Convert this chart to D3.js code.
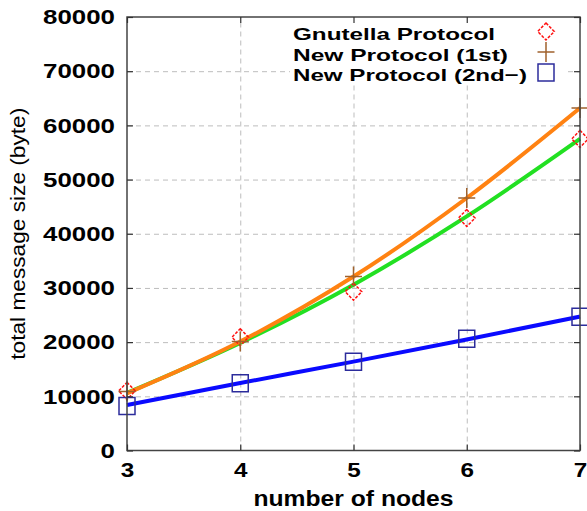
<!DOCTYPE html>
<html>
<head>
<meta charset="utf-8">
<script src="https://cdn.jsdelivr.net/npm/d3@7"></script>
<style>
  html, body { margin: 0; padding: 0; background: #fff; }
  svg { display: block; }
</style>
</head>
<body>
<script>
// data
const nodeCounts = [3, 4, 5, 6, 7];
const gnutella = [11000, 20900, 29300, 42900, 57500];
const newFirst = [10900, 20100, 32100, 46600, 63200];
const newSecond = [8200, 12400, 16400, 20600, 24700];
// the smooth fitted curves drawn through the points
const gnutellaFit = [10650, 19850, 30600, 43200, 57500];
const newFirstFit = [10550, 20100, 32100, 46600, 63200];
const newSecondFit = [8400, 12450, 16400, 20500, 24700];

const yTicks = [0, 10000, 20000, 30000, 40000, 50000, 60000, 70000, 80000];
const legendLabels = ["Gnutella Protocol", "New Protocol (1st)", "New Protocol (2nd\u2212)"];

const width = 587;
const height = 511;
const margin = { top: 17, right: 7, bottom: 60.5, left: 127 };
const w = width - margin.left - margin.right;
const h = height - margin.top - margin.bottom;

const svg = d3.select("body").append("svg")
    .attr("width", width)
    .attr("height", height);

const g = svg.append("g")
    .attr("transform", `translate(${margin.left},${margin.top})`);

const x = d3.scaleLinear().domain([3, 7]).range([0, w]);
const y = d3.scaleLinear().domain([0, 80000]).range([h, 0]);

// grid
g.append("g")
    .call(d3.axisLeft(y).tickValues(yTicks.slice(1, -1)).tickSize(-w).tickFormat(""))
    .call(s => s.select(".domain").remove())
    .selectAll("line")
    .attr("stroke", "#bdbdbd")
    .attr("stroke-dasharray", "5,4");
g.append("g")
    .attr("transform", `translate(0,${h})`)
    .call(d3.axisBottom(x).tickValues([4, 5, 6]).tickSize(-h).tickFormat(""))
    .call(s => s.select(".domain").remove())
    .selectAll("line")
    .attr("stroke", "#bdbdbd")
    .attr("stroke-dasharray", "5,4");

// legend background hides the grid behind it
g.append("rect")
    .attr("x", 163)
    .attr("y", 0)
    .attr("width", 278)
    .attr("height", 67)
    .attr("fill", "#fff");

// curves
const line = d3.line()
    .x((d, i) => x(nodeCounts[i]))
    .y(d => y(d))
    .curve(d3.curveMonotoneX);

const curves = [
    { values: gnutellaFit, color: "#22e022" },
    { values: newFirstFit, color: "#ff8212" },
    { values: newSecondFit, color: "#0a0aff" }
];
g.selectAll(".curve")
    .data(curves)
    .join("path")
    .attr("class", "curve")
    .attr("d", d => line(d.values))
    .attr("fill", "none")
    .attr("stroke", d => d.color)
    .attr("stroke-width", 4);

// markers
const diamond = "M0,-8.5L8.3,0L0,8.5L-8.3,0Z";
const cross = "M-8.5,0H8.5M0,-10V10";
const square = "M-8,-8.5H8V8.5H-8Z";

function drawMarkers(values, path, color, dash) {
    g.append("g")
        .selectAll("path")
        .data(values)
        .join("path")
        .attr("transform", (d, i) => `translate(${x(nodeCounts[i])},${y(d)})`)
        .attr("d", path)
        .attr("fill", "none")
        .attr("stroke", color)
        .attr("stroke-width", 1.5)
        .attr("stroke-dasharray", dash);
}
drawMarkers(gnutella, diamond, "#ff1010", "3,1.5");
drawMarkers(newFirst, cross, "#a0622d", null);
drawMarkers(newSecond, square, "#2c2c9c", null);

// frame and inward ticks
g.append("rect")
    .attr("width", w)
    .attr("height", h)
    .attr("fill", "none")
    .attr("stroke", "#444")
    .attr("stroke-width", 1.5);

const tickLen = -6;
g.append("g").call(d3.axisLeft(y).tickValues(yTicks).tickSize(tickLen).tickFormat(""));
g.append("g").attr("transform", `translate(${w},0)`)
    .call(d3.axisRight(y).tickValues(yTicks).tickSize(tickLen).tickFormat(""));
g.append("g").call(d3.axisTop(x).tickValues(nodeCounts).tickSize(tickLen).tickFormat(""));
g.append("g").attr("transform", `translate(0,${h})`)
    .call(d3.axisBottom(x).tickValues(nodeCounts).tickSize(tickLen).tickFormat(""));
g.selectAll(".domain").remove();
g.selectAll(".tick line").filter(function () { return !this.getAttribute("stroke-dasharray"); })
    .attr("stroke", "#333")
    .attr("stroke-width", 1.2);

// tick labels
const yAxis = g.append("g")
    .call(d3.axisLeft(y).tickValues(yTicks).tickSize(0).tickPadding(12).tickFormat(d3.format("d")));
yAxis.select(".domain").remove();
yAxis.selectAll("text")
    .attr("font-family", "'Liberation Sans', Arial, sans-serif")
    .attr("font-size", 21)
    .attr("font-weight", "bold")
    .attr("fill", "#000")
    .attr("textLength", d => String(d).length * 14.4)
    .attr("lengthAdjust", "spacingAndGlyphs");

const xAxis = g.append("g")
    .attr("transform", `translate(0,${h})`)
    .call(d3.axisBottom(x).tickValues(nodeCounts).tickSize(0).tickPadding(12).tickFormat(d3.format("d")));
xAxis.select(".domain").remove();
xAxis.selectAll("text")
    .attr("font-family", "'Liberation Sans', Arial, sans-serif")
    .attr("font-size", 21)
    .attr("font-weight", "bold")
    .attr("fill", "#000")
    .attr("textLength", 13.5)
    .attr("lengthAdjust", "spacingAndGlyphs");

// axis titles
svg.append("text")
    .attr("x", margin.left + w / 2)
    .attr("y", 506)
    .attr("text-anchor", "middle")
    .attr("font-family", "'Liberation Sans', Arial, sans-serif")
    .attr("font-size", 22)
    .attr("font-weight", "bold")
    .attr("textLength", 200)
    .attr("lengthAdjust", "spacingAndGlyphs")
    .text("number of nodes");

svg.append("text")
    .attr("transform", `translate(25,${margin.top + h / 2}) rotate(-90)`)
    .attr("text-anchor", "middle")
    .attr("font-family", "'Liberation Sans', Arial, sans-serif")
    .attr("font-size", 21)
    .attr("textLength", 252)
    .attr("lengthAdjust", "spacingAndGlyphs")
    .text("total message size (byte)");

// legend
const legendY = [14.5, 35, 55.5];
const legendWidths = [202, 215, 234];
const legendMarks = [
    { path: diamond, color: "#ff1010", dash: "3,1.5" },
    { path: cross, color: "#a0622d", dash: null },
    { path: square, color: "#2c2c9c", dash: null }
];
const legend = g.append("g");
legend.selectAll("text")
    .data(legendLabels)
    .join("text")
    .attr("x", 166)
    .attr("y", (d, i) => legendY[i] + 8.5)
    .attr("font-family", "'Liberation Sans', Arial, sans-serif")
    .attr("font-size", 17)
    .attr("font-weight", "bold")
    .attr("textLength", (d, i) => legendWidths[i])
    .attr("lengthAdjust", "spacingAndGlyphs")
    .text(d => d);
legend.selectAll("path")
    .data(legendMarks)
    .join("path")
    .attr("transform", (d, i) => `translate(419,${legendY[i]})`)
    .attr("d", d => d.path)
    .attr("fill", "none")
    .attr("stroke", d => d.color)
    .attr("stroke-width", 1.5)
    .attr("stroke-dasharray", d => d.dash);
</script>
</body>
</html>
